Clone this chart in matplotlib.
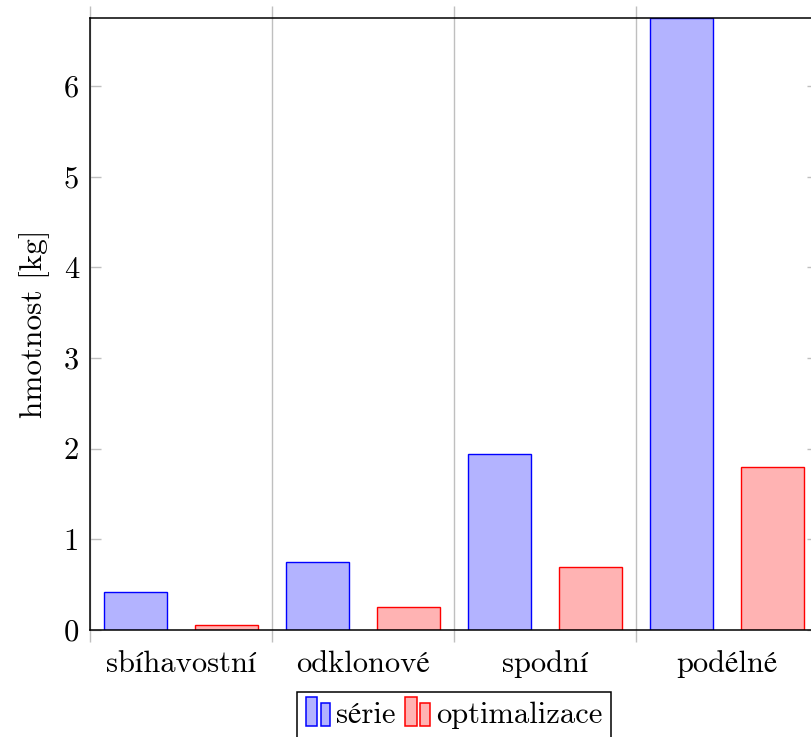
import matplotlib
matplotlib.use("Agg")
import matplotlib.pyplot as plt
import numpy as np
from matplotlib.patches import Rectangle
from matplotlib.legend_handler import HandlerBase

plt.rcParams['font.family'] = ['cmr10', 'STIXGeneral']
plt.rcParams['axes.formatter.use_mathtext'] = True

categories = ["sbíhavostní", "odklonové", "spodní", "podélné"]
serie = [0.42, 0.75, 1.94, 6.75]
optimalizace = [0.06, 0.25, 0.70, 1.80]
yticks = [0, 1, 2, 3, 4, 5, 6]
series_names = ["série", "optimalizace"]

blue_fill = (0.7, 0.7, 1.0)
red_fill = (1.0, 0.7, 0.7)
grid_gray = (0.75, 0.75, 0.75)
FS = 22

W, H = 812, 737
fig = plt.figure(figsize=(W / 100, H / 100), dpi=100)
ax = fig.add_axes([90 / W, 1 - 630 / H, (818 - 90) / W, (630 - 18) / H])

x = np.arange(len(categories))
off = 0.25
bw = 0.346
b1 = ax.bar(x - off, serie, bw, color=blue_fill, edgecolor="blue", linewidth=1.0, zorder=3)
b2 = ax.bar(x + off, optimalizace, bw, color=red_fill, edgecolor="red", linewidth=1.0, zorder=3)

ax.set_xlim(-0.5, len(categories) - 0.5)
ax.set_ylim(0, 6.75)

ax.set_xticks(x)
ax.set_xticklabels(categories, fontsize=FS)
ax.tick_params(axis="x", which="major", length=0, pad=14.5)
ax.set_xticks(np.arange(-0.5, len(categories), 1.0), minor=True)
ax.tick_params(axis="x", which="minor", direction="out", length=8.5, width=1.0,
               color=grid_gray, top=True, bottom=True)
ax.grid(True, which="minor", axis="x", color=grid_gray, linewidth=1.0, zorder=0)

ax.set_yticks(yticks)
ax.set_yticklabels([str(v) for v in yticks], fontsize=FS)
ax.tick_params(axis="y", which="major", direction="in", length=8, width=1.0,
               color=grid_gray, left=True, right=True, pad=8)

for s in ax.spines.values():
    s.set_linewidth(1.1)
    s.set_color("black")
    s.set_zorder(4)

ax.set_ylabel("hmotnost [kg]", fontsize=22.5, labelpad=10)


class HandlerTwinBars(HandlerBase):
    def create_artists(self, legend, orig_handle, xdescent, ydescent, width,
                       height, fontsize, trans):
        fc = orig_handle.get_facecolor()
        ec = orig_handle.get_edgecolor()
        bwid = width * 0.47
        y0 = -ydescent - 0.15 * height
        r1 = Rectangle((-xdescent, y0), bwid, height * 1.35,
                       facecolor=fc, edgecolor=ec, linewidth=1.1, transform=trans)
        r2 = Rectangle((-xdescent + width * 0.6, y0), bwid * 0.85,
                       height * 1.08, facecolor=fc, edgecolor=ec, linewidth=1.1,
                       transform=trans)
        return [r1, r2]


leg = fig.legend([b1.patches[0], b2.patches[0]], series_names,
                 loc="upper center", bbox_to_anchor=(454 / W, 1 - 692 / H),
                 bbox_transform=fig.transFigure, ncol=2, fontsize=FS,
                 handler_map={Rectangle: HandlerTwinBars()},
                 fancybox=False, framealpha=1, edgecolor="black",
                 handlelength=0.8, handletextpad=0.2, columnspacing=0.3,
                 borderpad=0.3, borderaxespad=0)
leg.get_frame().set_linewidth(1.1)

fig.savefig("out.png", dpi=100)
